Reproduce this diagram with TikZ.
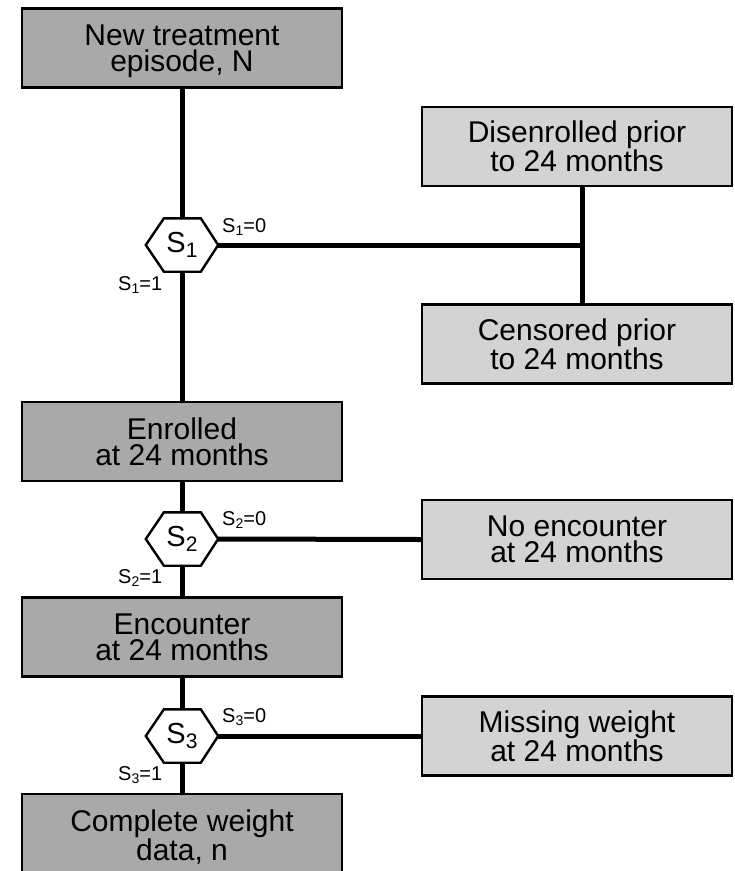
\documentclass[tikz,border=0pt]{standalone}
\usepackage{fontspec}
\setmainfont{Liberation Sans}
\usetikzlibrary{calc}
\definecolor{stepdark}{HTML}{A9A9A9}
\definecolor{steplight}{HTML}{D3D3D3}
\tikzset{
  box/.style={draw=black, line width=2.4pt, minimum height=79pt, inner sep=0pt,
    align=center, text depth=0pt, font=\fontsize{30}{26}\selectfont},
  mainbox/.style={box, fill=stepdark, minimum width=320pt},
  sidebox/.style={box, fill=steplight, minimum width=310pt},
  hexnode/.style={minimum width=72pt, minimum height=53pt, inner sep=0pt,
    font=\fontsize{29}{29}\selectfont},
  hexline/.style={draw=black, fill=white, line width=2.4pt, line join=miter},
  flow/.style={line width=5pt},
  branch/.style={inner sep=0pt, anchor=base west, font=\fontsize{20}{20}\selectfont},
}
\newcommand{\bigsub}[1]{S\raisebox{-5pt}{\fontsize{21}{21}\selectfont #1}}
\newcommand{\smallsub}[2]{S\raisebox{-3.5pt}{\fontsize{14}{14}\selectfont #1}=#2}
\begin{document}
\begin{tikzpicture}[x=1pt, y=-1pt]
\useasboundingbox (0,0) rectangle (735,871);
\clip (0,0) rectangle (735,871);

% main column
\node[mainbox] (new) at (182,48) {New treatment\\episode, N};
\node[mainbox] (enr) at (182,441.5) {Enrolled\\at 24 months};
\node[mainbox] (enc) at (182,637) {Encounter\\at 24 months};
\node[mainbox, minimum height=82pt] (cmp) at (182,835) {Complete weight\\data, n};

% side boxes
\node[sidebox] (dis) at (577,146.5) {Disenrolled prior\\to 24 months};
\node[sidebox] (cen) at (577,344) {Censored prior\\to 24 months};
\node[sidebox] (noe) at (577,539.5) {No encounter\\at 24 months};
\node[sidebox] (mis) at (577,736) {Missing weight\\at 24 months};

% selection points
\node[hexnode] (s1) at (182,245) {};
\node[hexnode] (s2) at (182,539) {};
\node[hexnode] (s3) at (182,736) {};
\coordinate (j1) at (582,245);

% connectors
\draw[flow] (new.south) -- (s1.north);
\draw[flow] (s1.south) -- (enr.north);
\draw[flow] (s1.east) -- (j1);
\draw[flow] (dis.south -| j1) -- (cen.north -| j1);
\draw[flow] (enr.south) -- (s2.north);
\draw[flow] (s2.south) -- (enc.north);
\draw[flow] (s2.east) -- (noe.west);
\draw[flow] (enc.south) -- (s3.north);
\draw[flow] (s3.south) -- (cmp.north);
\draw[flow] (s3.east) -- (mis.west);

% hexagons drawn over the line ends
\foreach \h in {s1,s2,s3}{
  \draw[hexline] (\h.west)
    -- ($(\h.north west)!0.25!(\h.north east)$)
    -- ($(\h.north west)!0.76!(\h.north east)$)
    -- (\h.east)
    -- ($(\h.south west)!0.76!(\h.south east)$)
    -- ($(\h.south west)!0.25!(\h.south east)$)
    -- cycle;
}
\node[hexnode] (t1) at (s1) {\bigsub{1}};
\node[hexnode] (t2) at (s2) {\bigsub{2}};
\node[hexnode] (t3) at (s3) {\bigsub{3}};

% branch labels
\node[branch] (b10) at (222,232) {\smallsub{1}{0}};
\node[branch] (b11) at (118,290) {\smallsub{1}{1}};
\node[branch] (b20) at (222,525) {\smallsub{2}{0}};
\node[branch] (b21) at (118,583) {\smallsub{2}{1}};
\node[branch] (b30) at (222,722) {\smallsub{3}{0}};
\node[branch] (b31) at (118,780) {\smallsub{3}{1}};
\end{tikzpicture}
\end{document}
